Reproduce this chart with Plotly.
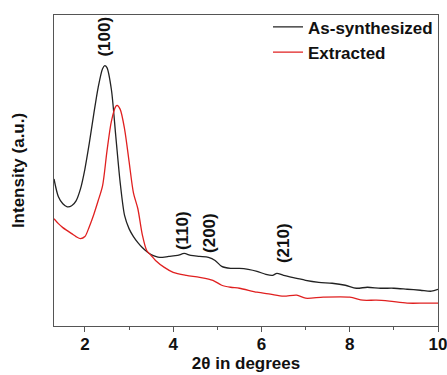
import plotly.graph_objects as go

# As-synthesized (black)
x_as = [1.3, 1.4, 1.5, 1.6, 1.7, 1.8, 1.9, 2.0, 2.1, 2.2,
        2.3, 2.4, 2.45, 2.5, 2.6, 2.7, 2.8, 2.9, 3.0, 3.1,
        3.2, 3.3, 3.4, 3.5, 3.6, 3.7, 3.9, 4.1, 4.25, 4.4,
        4.6, 4.8, 4.95, 5.1, 5.3, 5.5, 5.7, 5.9, 6.1, 6.25,
        6.35, 6.5, 6.8, 7.0, 7.3, 7.6, 7.9, 8.15, 8.4, 8.7,
        9.0, 9.3, 9.6, 9.85, 10.0]
y_as = [148, 130, 123, 120, 121, 126, 138, 158, 184, 213,
        240, 259, 262, 260, 238, 191, 144, 111, 98, 90,
        84, 79, 75, 72, 70, 69, 70, 71, 73, 71,
        70, 69, 66, 60, 58, 58, 57, 55, 52, 51,
        53, 51, 48, 46, 44, 43, 41, 38, 39, 38,
        38, 37, 36, 35, 37]

# Extracted (red)
x_ex = [1.3, 1.4, 1.5, 1.6, 1.7, 1.8, 1.9, 2.0, 2.1, 2.2,
        2.3, 2.4, 2.5, 2.6, 2.7, 2.73, 2.8, 2.9, 3.0, 3.1,
        3.2, 3.3, 3.4, 3.5, 3.6, 3.8, 4.0, 4.3, 4.6, 4.9,
        5.1, 5.3, 5.5, 5.9, 6.2, 6.5, 6.8, 7.0, 7.4, 8.0,
        8.3, 8.6, 8.9, 9.3, 9.7, 10.0]
y_ex = [108, 103, 99, 96, 93, 90, 88, 90, 100, 112,
        126, 141, 176, 206, 221, 222, 218, 198, 166, 134,
        118, 92, 76, 71, 66, 59, 54, 51, 49, 46,
        41, 39, 38, 34, 32, 30, 31, 28, 29, 29,
        26, 26, 25, 23, 23, 23]

peak_labels = ["(100)", "(110)", "(200)", "(210)"]
peak_x = [2.45, 4.21, 4.82, 6.5]
peak_y = [291, 96, 94, 83]

FONT = "Liberation Sans, Arial, sans-serif"

fig = go.Figure()
fig.add_trace(go.Scatter(x=x_as, y=y_as, mode="lines", name="As-synthesized",
                         line=dict(color="#222222", width=1.3, shape="spline", smoothing=0.8)))
fig.add_trace(go.Scatter(x=x_ex, y=y_ex, mode="lines", name="Extracted",
                         line=dict(color="#e02020", width=1.3, shape="spline", smoothing=0.8)))

for t, xv, yv in zip(peak_labels, peak_x, peak_y):
    fig.add_annotation(x=xv, y=yv, text=t, showarrow=False, textangle=-90,
                       font=dict(family=FONT, size=17, color="#111", weight="bold"))

fig.update_layout(
    width=447, height=375,
    margin=dict(l=54, r=9, t=13, b=49),
    paper_bgcolor="white", plot_bgcolor="white",
    font=dict(family=FONT, size=17, color="#111", weight="bold"),
    showlegend=True,
    legend=dict(x=1.0, xanchor="right", y=1.018, yanchor="top",
                bgcolor="rgba(0,0,0,0)", font=dict(family=FONT, size=17, weight="bold"),
                itemwidth=30, tracegroupgap=0),
)
fig.update_xaxes(range=[1.3, 10], tickvals=[2, 4, 6, 8, 10], ticks="outside", ticklen=5,
                 tickcolor="#555", showline=True, linecolor="#555", linewidth=1, mirror=True,
                 showgrid=False, zeroline=False, automargin=False,
                 ticklabeloverflow="allow", ticklabelstandoff=-2,
                 minor=dict(tickvals=[3, 5, 7, 9], ticks="outside", ticklen=3, tickcolor="#555"),
                 title=dict(text="2θ in degrees", standoff=2,
                            font=dict(family=FONT, size=17, weight="bold")),
                 tickfont=dict(family=FONT, size=17, weight="bold"))
fig.update_yaxes(range=[0, 313], showticklabels=False, ticks="", showline=True, linecolor="#555",
                 linewidth=1, mirror=True, showgrid=False, zeroline=False, automargin=False,
                 title=dict(text="Intensity (a.u.)", standoff=24,
                            font=dict(family=FONT, size=17, weight="bold")))

fig.write_html("out.html")
